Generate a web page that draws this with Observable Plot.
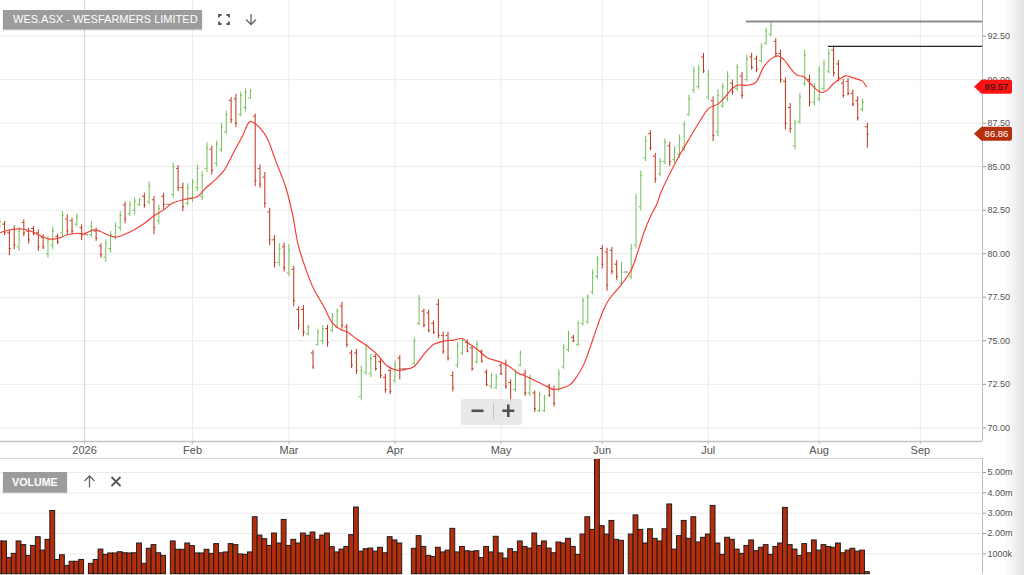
<!DOCTYPE html>
<html>
<head>
<meta charset="utf-8">
<script src="https://cdn.jsdelivr.net/npm/d3@7"></script>
<script src="https://cdn.jsdelivr.net/npm/@observablehq/plot@0.6"></script>
<style>
html,body{margin:0;padding:0;background:#fff;}
#wrap{position:relative;width:1024px;height:575px;overflow:hidden;font-family:"Liberation Sans",Arial,sans-serif;}
#price{position:absolute;left:0;top:0;}
#vol{position:absolute;left:0;top:458px;}
.tag{position:absolute;background:#9c9c9c;color:#fff;box-shadow:0 1px 1px rgba(0,0,0,0.25);white-space:nowrap;}
#title{left:3px;top:10px;width:199px;height:19px;line-height:19px;font-size:11px;padding-left:10px;box-sizing:border-box;}
#voltag{left:3px;top:472px;width:64px;height:20px;line-height:20px;font-size:10.7px;font-weight:bold;padding-left:9px;box-sizing:border-box;}
.ov{position:absolute;left:0;top:0;pointer-events:none;}
#edge{position:absolute;left:1004px;top:0;width:20px;height:575px;background:linear-gradient(to right,rgba(0,0,0,0),rgba(0,0,0,0.11));}
</style>
</head>
<body>
<div id="wrap">
  <div id="price"></div>
  <div id="vol"></div>
  <div class="tag" id="title">WES.ASX - WESFARMERS LIMITED</div>
  <div class="tag" id="voltag">VOLUME</div>
  <svg class="ov" width="1024" height="575">
    <g stroke="#555" stroke-width="1.8" fill="none">
      <path d="M219,17.5 V15 H221.5 M226.5,15 H229 V17.5 M229,21.5 V24 H226.5 M221.5,24 H219 V21.5"/>
    </g>
    <g stroke="#666" stroke-width="1.3" fill="none">
      <path d="M251,14 V24.5 M246,19.5 L251,24.5 L256,19.5"/>
      <path d="M89.5,487.5 V476 M84.5,481 L89.5,476 L94.5,481"/>
    </g>
    <g stroke="#555" stroke-width="1.8" fill="none">
      <path d="M111.5,477 L120.5,486 M120.5,477 L111.5,486"/>
    </g>
    <rect x="461" y="399" width="61" height="26" rx="3" fill="#e6e6e6" fill-opacity="0.9"/>
    <line x1="493.5" y1="403" x2="493.5" y2="419" stroke="#c4c4c4" stroke-width="1"/>
    <g stroke="#505050" stroke-width="2.6" fill="none">
      <path d="M471.5,410.8 H483.5"/>
      <path d="M502.3,410.8 H514.3 M508.3,404.5 V417"/>
    </g>
  </svg>
  <div id="edge"></div>
</div>
<script>
// ---------- DATA ----------
// bar index = weekday slot (0 = first visible bar); null = market holiday
const xTickIdx   = [17.6, 40, 60, 82, 104, 125, 147, 170, 191];
const xTickLabel = ["2026", "Feb", "Mar", "Apr", "May", "Jun", "Jul", "Aug", "Sep"];

const priceTicks = [70, 72.5, 75, 77.5, 80, 82.5, 85, 87.5, 90, 92.5];
const volTicks   = [1, 2, 3, 4, 5];
const volTickLabel = ["1000k", "2.00m", "3.00m", "4.00m", "5.00m"];

const hi = [
  82.00, 81.85, 81.37, 81.60, 81.53, 81.95, 81.47, 81.56, 81.37, 81.09,
  80.99, 81.53, 81.13, 82.42, 82.23, 82.04, 82.29, 81.66, null, 81.85,
  81.47, 80.57, 80.80, 81.28, 81.76, 82.42, 82.96, 83.00, 83.19, 83.19,
  83.47, 84.14, 83.28, 82.81, 83.47, null, 85.19, 85.07, 84.05, 84.01,
  84.27, 85.10, 84.71, 86.37, 86.18, 86.47, 87.48, 88.19, 88.97, 89.16,
  89.29, 89.48, 89.45, 88.02, 85.10, 84.66, 82.61, 81.03, 80.57, 80.61,
  80.52, 79.27, 76.95, 77.02, 75.88, 74.45, 75.65, 75.88, 75.88, 76.57,
  76.83, 77.21, 75.94, 74.45, 74.50, 73.55, 74.79, 74.22, 74.22, 73.93,
  73.07, 73.49, 73.84, 74.16, null, null, 75.17, 77.60, 76.83, 76.76,
  76.13, 77.37, 75.50, 75.50, 73.21, 74.89, 75.12, 75.04, 74.73, 74.98,
  74.47, 73.32, 73.13, 73.07, 73.70, 73.89, 72.75, 73.32, 74.41, 73.30,
  73.05, 72.12, 72.06, 71.87, 72.50, 72.40, 73.32, 74.79, 75.55, 75.31,
  76.13, 77.46, 77.65, 79.08, 79.85, 80.46, 80.32, 80.36, 79.60, 79.50,
  null, 80.52, 83.42, 84.75, 86.76, 87.06, 85.76, 85.48, 86.59, 86.40,
  86.15, 86.82, 87.58, 89.11, 90.73, 90.83, 91.50, 90.54, 89.01, 89.40,
  89.78, 90.45, 89.97, 90.87, 90.41, 91.40, 91.50, 91.36, 92.07, 92.96,
  93.31, 92.35, 91.69, 90.10, 88.63, 87.68, 89.20, 91.69, 90.26, 89.78,
  90.73, 91.11, 91.74, 91.92, 91.11, 90.01, 90.06, 89.40, 89.01, 88.88,
  87.49
];
const lo = [
  81.40, 81.03, 79.89, 80.23, 80.13, 80.99, 80.55, 81.03, 80.13, 80.23,
  79.75, 80.23, 80.52, 80.99, 81.09, 81.09, 81.53, 80.76, null, 80.90,
  80.71, 79.75, 79.50, 80.04, 80.80, 81.28, 81.72, 82.14, 82.23, 82.71,
  82.61, 82.81, 81.09, 81.66, 82.52, null, 83.19, 83.58, 82.42, 82.75,
  82.94, 83.57, 83.05, 84.66, 84.52, 85.00, 85.80, 86.85, 87.48, 87.25,
  87.86, 88.15, 88.87, 83.85, 83.76, 82.61, 80.46, 79.18, 79.27, 78.95,
  78.70, 76.95, 75.60, 75.23, 75.27, 73.36, 74.70, 74.79, 74.64, 75.46,
  75.69, 75.65, 74.60, 73.40, 73.07, 71.55, 73.02, 72.88, 73.26, 72.83,
  71.99, 71.91, 72.56, 72.75, null, null, 73.55, 75.88, 75.75, 75.46,
  75.36, 75.12, 74.22, 73.84, 72.06, 73.42, 74.16, 74.31, 73.26, 73.65,
  73.74, 72.37, 72.21, 72.21, 73.02, 72.21, 71.36, 72.06, 73.50, 71.80,
  71.80, 70.88, 70.88, 70.88, 71.74, 71.20, 72.06, 73.36, 74.35, 74.89,
  74.66, 75.84, 75.94, 77.65, 78.51, 79.12, 77.84, 78.80, 78.47, 78.13,
  null, 78.51, 80.27, 82.46, 85.29, 85.92, 84.05, 84.43, 85.10, 85.00,
  85.20, 85.48, 85.87, 87.87, 89.20, 89.45, 90.35, 88.82, 86.44, 86.72,
  88.35, 88.73, 89.11, 89.30, 88.88, 89.87, 90.54, 90.41, 90.92, 91.97,
  92.45, 91.30, 89.78, 87.11, 86.92, 85.96, 87.43, 89.59, 88.44, 88.50,
  88.73, 89.30, 90.35, 90.16, 89.87, 88.92, 89.07, 88.44, 87.62, 88.16,
  86.06
];
const op = [
  81.55, 81.70, 81.20, 81.40, 80.40, 81.80, 81.30, 81.45, 81.20, 80.95,
  80.00, 80.50, 81.00, 81.20, 82.00, 81.90, 81.70, 81.50, null, 81.10,
  81.30, 80.45, 79.80, 80.30, 81.00, 81.50, 82.80, 82.30, 82.50, 82.85,
  83.30, 83.00, 83.10, 81.90, 83.30, null, 83.40, 84.90, 83.80, 82.90,
  83.20, 83.80, 83.30, 84.90, 86.00, 85.20, 86.00, 87.00, 88.80, 88.90,
  88.00, 88.40, 88.95, 87.90, 84.90, 84.40, 82.40, 80.80, 79.50, 80.40,
  78.90, 79.10, 76.80, 76.80, 75.40, 74.30, 74.80, 75.00, 75.70, 75.60,
  75.80, 77.00, 75.80, 74.30, 74.30, 71.80, 73.20, 73.10, 74.10, 73.80,
  72.90, 73.30, 72.70, 74.00, null, null, 73.70, 76.00, 76.70, 76.60,
  76.00, 77.10, 75.30, 75.30, 73.00, 73.60, 74.30, 74.90, 74.60, 73.80,
  74.40, 73.20, 72.40, 72.30, 73.60, 73.70, 72.60, 72.20, 73.60, 73.10,
  72.00, 72.00, 71.00, 71.00, 72.40, 72.20, 72.20, 73.50, 74.50, 75.20,
  74.80, 76.00, 76.10, 77.80, 78.70, 80.30, 80.10, 80.20, 79.40, 78.30,
  null, 78.70, 80.50, 82.70, 85.50, 86.90, 85.60, 84.60, 85.30, 86.20,
  85.40, 85.70, 86.10, 88.00, 89.40, 89.60, 91.30, 89.00, 88.80, 87.00,
  88.50, 88.90, 89.80, 89.50, 90.20, 90.00, 91.30, 91.20, 91.10, 92.10,
  92.60, 92.20, 91.50, 89.90, 88.40, 86.20, 87.60, 89.80, 90.00, 88.70,
  88.90, 89.50, 90.50, 91.70, 90.90, 89.80, 89.90, 89.20, 88.80, 88.30,
  87.30
];
const cl = [
  81.85, 81.20, 80.30, 80.50, 81.30, 81.20, 80.80, 81.15, 80.40, 80.40,
  80.80, 81.30, 80.70, 82.20, 81.30, 81.30, 82.10, 81.09, null, 81.60,
  80.90, 79.95, 80.60, 81.10, 81.60, 82.20, 82.00, 82.80, 83.00, 83.10,
  82.80, 83.90, 81.50, 82.60, 82.84, null, 85.00, 83.80, 82.70, 83.80,
  84.10, 84.90, 84.50, 86.10, 84.80, 86.30, 87.30, 88.00, 87.70, 87.50,
  89.10, 89.30, 89.35, 84.20, 84.00, 82.90, 80.80, 79.50, 80.30, 79.20,
  80.20, 77.30, 75.90, 75.50, 75.80, 73.50, 75.50, 75.70, 74.90, 76.40,
  76.70, 75.90, 74.80, 73.60, 73.30, 73.30, 74.50, 74.00, 73.40, 73.00,
  72.20, 72.10, 73.60, 73.40, null, null, 75.00, 77.40, 75.90, 75.60,
  75.50, 75.30, 74.40, 74.00, 72.30, 74.70, 75.00, 74.40, 73.40, 74.80,
  73.80, 72.50, 73.00, 72.90, 73.10, 72.40, 71.50, 73.10, 74.30, 72.00,
  72.90, 71.10, 71.90, 71.70, 71.90, 71.40, 73.10, 74.60, 75.40, 75.00,
  76.00, 77.30, 77.50, 78.90, 79.70, 79.40, 78.20, 79.00, 78.70, 78.95,
  null, 80.30, 83.20, 84.50, 86.50, 86.10, 84.30, 85.30, 86.40, 85.30,
  86.00, 86.60, 87.40, 88.90, 90.50, 90.60, 90.50, 90.30, 86.80, 89.10,
  89.60, 90.20, 89.30, 90.70, 89.10, 91.20, 90.70, 90.60, 91.90, 92.80,
  93.10, 91.50, 90.00, 87.50, 87.20, 87.50, 89.00, 91.40, 88.70, 89.60,
  90.50, 90.90, 91.50, 90.40, 90.10, 89.10, 89.20, 88.60, 87.80, 88.70,
  86.86
];
// volume in millions of shares
const volume = [
  1.61, 1.61, 0.80, 1.00, 1.61, 1.43, 0.90, 1.39, 1.82, 1.16,
  1.69, 3.11, 0.70, 0.93, 0.41, 0.61, 0.61, 0.70, null, 0.51,
  0.70, 1.21, 0.95, 1.02, 1.02, 1.08, 1.03, 1.02, 1.03, 1.51,
  0.51, 1.25, 1.43, 1.03, 0.90, null, 1.61, 1.20, 1.20, 1.51,
  1.38, 1.02, 1.02, 1.20, 1.00, 1.48, 1.03, 1.07, 1.48, 1.43,
  0.97, 0.95, 1.07, 2.80, 1.90, 1.72, 1.39, 2.00, 1.51, 2.67,
  1.39, 1.69, 1.51, 2.00, 1.89, 2.05, 1.69, 1.90, 2.00, 1.33,
  1.07, 1.21, 1.34, 1.92, 3.28, 1.11, 1.23, 1.26, 1.11, 1.30,
  1.03, 1.82, 1.66, 1.51, null, null, 1.25, 1.87, 1.34, 0.90,
  0.85, 1.30, 1.07, 1.16, 2.23, 1.07, 1.34, 1.13, 1.10, 1.13,
  0.80, 1.34, 1.07, 1.84, 1.02, 0.77, 1.23, 1.08, 1.61, 1.34,
  1.26, 2.00, 1.39, 1.61, 1.26, 1.03, 1.56, 1.51, 1.74, 1.34,
  0.95, 1.95, 2.80, 2.18, 5.66, 2.36, 1.95, 2.62, 1.69, 1.64,
  null, 1.95, 2.89, 2.18, 1.51, 2.21, 1.74, 1.61, 2.21, 3.43,
  1.21, 1.87, 2.62, 1.74, 2.80, 1.56, 1.79, 1.95, 3.36, 1.51,
  0.95, 1.79, 1.69, 1.21, 1.00, 1.39, 1.66, 1.13, 1.30, 1.43,
  0.95, 1.34, 1.51, 3.26, 1.43, 1.21, 0.90, 1.48, 1.03, 1.66,
  1.16, 1.43, 1.34, 1.30, 1.51, 1.03, 1.16, 1.25, 1.11, 1.16,
  0.10
];
// holiday slots: flat grey dash at the previous close
const holidayIdx = [18, 35, 84, 85, 130];
const holidayVal = [81.09, 82.84, 73.40, 73.40, 78.95];

// moving average line
const maIdx = [0.16, 2.9, 5.0, 7.1, 9.1, 10.5, 12.3, 14.0, 16.1, 17.4, 19.5, 20.9, 22.3, 24.0, 25.7, 27.8, 29.9, 32.0, 34.0, 35.8,
  38.5, 41.0, 42.7, 44.8, 46.5, 48.6, 50.3, 52.0, 54.1, 55.5, 57.2, 59.3, 60.7, 62.0, 63.8, 65.2, 67.2, 69.0, 70.7, 72.1,
  74.2, 76.2, 78.3, 80.4, 82.5, 84.2, 85.9, 88.0, 90.0, 92.1, 94.2, 95.9, 97.3, 99.1, 101.1, 103.9, 105.6, 107.4, 109.4, 112.2,
  114.9, 117.0, 118.4, 119.8, 121.2, 122.6, 124.0, 125.3, 126.4, 128.1, 129.5, 130.9, 132.3, 133.6, 135.0, 136.4, 137.1, 140.5, 143.3, 145.4,
  147.1, 148.9, 150.2, 152.0, 153.0, 155.1, 156.8, 158.5, 160.3, 161.6, 162.7, 164.1, 165.4, 166.8, 168.2, 169.6, 170.6, 171.7, 173.0, 174.4,
  175.5, 176.5, 177.9, 178.9, 179.8];
const maVal = [81.22, 81.41, 81.41, 81.22, 80.95, 80.84, 80.90, 81.09, 81.18, 81.14, 81.37, 81.28, 81.09, 80.95, 81.09, 81.37, 81.72, 82.18, 82.52, 82.90,
  83.13, 83.28, 83.76, 84.27, 84.77, 85.86, 86.72, 87.60, 87.19, 86.62, 85.38, 83.85, 82.33, 80.42, 78.89, 77.94, 76.99, 76.03, 75.65, 75.50,
  75.08, 74.70, 74.22, 73.55, 73.30, 73.36, 73.51, 74.22, 74.79, 74.98, 75.04, 75.13, 74.85, 74.50, 74.03, 73.78, 73.55, 73.17, 72.94, 72.56,
  72.21, 72.31, 72.50, 72.98, 73.66, 74.71, 75.84, 76.80, 77.37, 77.94, 78.42, 78.99, 80.04, 81.18, 82.14, 82.90, 83.47, 85.39, 86.72, 87.68,
  88.35, 88.58, 88.92, 89.49, 89.68, 89.68, 89.82, 90.73, 91.25, 91.36, 91.15, 90.64, 90.26, 90.16, 89.78, 89.40, 89.26, 89.40, 89.78, 90.06,
  90.22, 90.16, 90.03, 89.93, 89.59];

// recent-high level lines
const levelVal  = [93.34, 91.91];
const levelFrom = [154.9, 171.9];

// price flags on the right axis
const flagVal = [89.57, 86.86];

// ---------- BUILD ----------
const FONT = '"Liberation Sans", Arial, sans-serif';
const GREEN = "#72c058", RED = "#bd3216";
const xDomain = [0.158, 203.89];

const bars = hi.map((h, i) => ({i, hi: h, lo: lo[i], op: op[i], cl: cl[i]})).filter(d => d.hi != null);
const up = bars.filter(d => d.cl >= d.op);
const down = bars.filter(d => d.cl < d.op);
const hol = holidayIdx.map((i, k) => ({i, v: holidayVal[k]}));
const ma = maIdx.map((i, k) => ({i, v: maVal[k]}));
const levels = levelVal.map((v, k) => ({v, from: levelFrom[k]}));
const vols = volume.map((v, i) => ({i, v})).filter(d => d.v != null);
const xLab = new Map(xTickIdx.map((t, k) => [t, xTickLabel[k]]));
const vLab = new Map(volTicks.map((t, k) => [t, volTickLabel[k]]));

function barMarks(data, color) {
  return [
    Plot.ruleX(data, {x: "i", y1: "lo", y2: "hi", stroke: color, strokeWidth: 1}),
    Plot.ruleY(data, {y: "op", x1: d => d.i - 0.36, x2: "i", stroke: color, strokeWidth: 1}),
    Plot.ruleY(data, {y: "cl", x1: "i", x2: d => d.i + 0.36, stroke: color, strokeWidth: 1})
  ];
}

const priceChart = Plot.plot({
  width: 1024, height: 458,
  marginTop: 0, marginRight: 42, marginBottom: 17, marginLeft: 0,
  x: {domain: xDomain, axis: null},
  y: {domain: [69.216, 94.546], axis: null},
  style: {background: "transparent", fontFamily: FONT, overflow: "visible"},
  marks: [
    Plot.gridY(priceTicks, {stroke: "#ebebeb", strokeOpacity: 1}),
    Plot.gridX(xTickIdx.slice(1), {stroke: "#ebebeb", strokeOpacity: 1}),
    Plot.gridX(xTickIdx.slice(0, 1), {stroke: "#d6d6d6", strokeOpacity: 1}),
    Plot.ruleY(hol, {y: "v", x1: d => d.i - 0.45, x2: d => d.i + 0.45, stroke: "#8a8a8a", strokeWidth: 1}),
    ...barMarks(up, GREEN),
    ...barMarks(down, RED),
    Plot.line(ma, {x: "i", y: "v", stroke: "#f53b32", strokeWidth: 1.15, curve: "catmull-rom"}),
    Plot.ruleY(levels.slice(0, 1), {y: "v", x1: "from", x2: () => xDomain[1], stroke: "#8c8c8c", strokeWidth: 2}),
    Plot.ruleY(levels.slice(1), {y: "v", x1: "from", x2: () => xDomain[1], stroke: "#222", strokeWidth: 1.3}),
    Plot.ruleX([xDomain[1]], {stroke: "#bdbdbd"}),
    Plot.ruleY([69.216], {stroke: "#c4c4c4", strokeWidth: 1.3}),
    Plot.axisY(priceTicks, {anchor: "right", tickSize: 3, tickPadding: 2, tickFormat: d => d.toFixed(2),
      fontSize: 9, fill: "#555", stroke: "#999", label: null}),
    Plot.axisX(xTickIdx, {anchor: "bottom", tickSize: 3, tickPadding: 2, tickFormat: d => xLab.get(d),
      fontSize: 11, fill: "#555", stroke: "#bbb", label: null})
  ]
});
document.getElementById("price").append(priceChart);

// flags drawn at the y scale position of each value
const ys = priceChart.scale("y");
const svg = d3.select(priceChart);
const flagStyle = [{bg: "#ff1414", fg: "#111"}, {bg: "#b7300e", fg: "#fff"}];
flagVal.forEach((v, k) => {
  const y = ys.apply(v);
  const g = svg.append("g");
  g.append("path")
    .attr("d", `M974,${y} L981.5,${y - 7} H1010 Q1012,${y - 7} 1012,${y - 5} V${y + 5} Q1012,${y + 7} 1010,${y + 7} H981.5 Z`)
    .attr("fill", flagStyle[k].bg);
  g.append("text").attr("x", 996.5).attr("y", y + 3.3)
    .attr("text-anchor", "middle").attr("font-size", 9.5).attr("font-family", FONT)
    .attr("fill", flagStyle[k].fg).text(v.toFixed(2));
});

const volChart = Plot.plot({
  width: 1024, height: 117,
  marginTop: 0, marginRight: 42, marginBottom: 1.3, marginLeft: 0,
  x: {domain: xDomain, axis: null},
  y: {domain: [0, 5.69], axis: null},
  style: {background: "transparent", fontFamily: FONT, overflow: "visible"},
  marks: [
    Plot.gridY(volTicks, {stroke: "#ebebeb", strokeOpacity: 1}),
    Plot.rectY(vols, {x1: d => d.i - 0.5, x2: d => d.i + 0.5, y: "v", fill: "#b72d0b", stroke: "#1c1c1c", strokeWidth: 1}),
    Plot.ruleX([xDomain[1]], {stroke: "#bdbdbd"}),
    Plot.ruleY([5.69], {stroke: "#d8d8d8"}),
    Plot.axisY(volTicks, {anchor: "right", tickSize: 3, tickPadding: 2, tickFormat: d => vLab.get(d),
      fontSize: 9, fill: "#555", stroke: "#999", label: null})
  ]
});
document.getElementById("vol").append(volChart);
</script>
</body>
</html>
